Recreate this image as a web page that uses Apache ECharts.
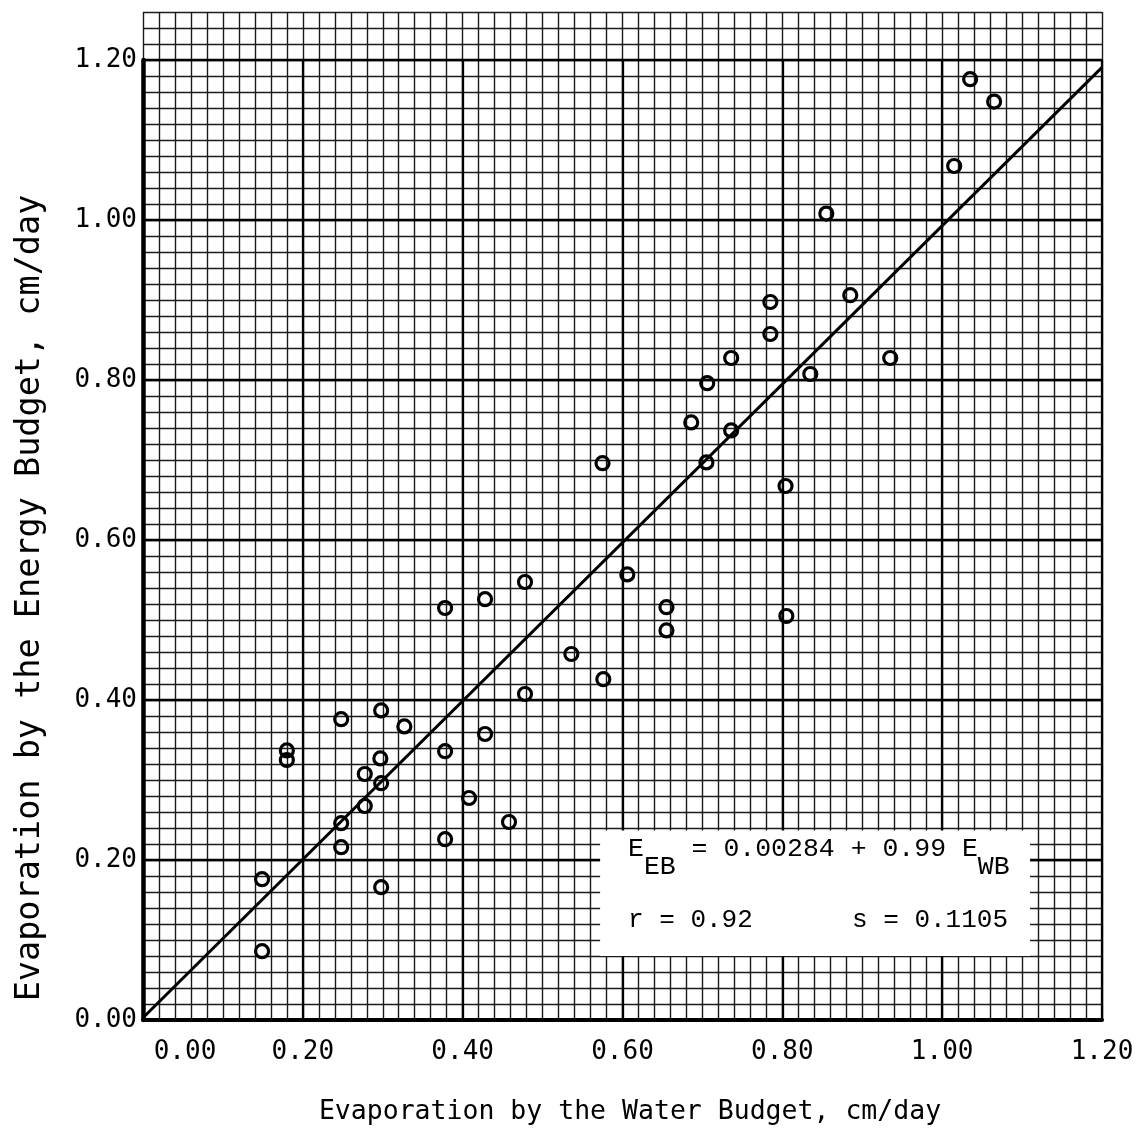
<!DOCTYPE html>
<html>
<head>
<meta charset="utf-8">
<script src="https://cdn.jsdelivr.net/npm/echarts@6/dist/echarts.min.js"></script>
<style>
html,body{margin:0;padding:0;background:#fff;}
#chart{width:1144px;height:1144px;}
</style>
</head>
<body>
<div id="chart"></div>
<script>
// ---- data ----
const waterBudget = [0.149,0.149,0.180,0.180,0.248,0.248,0.248,0.2775,0.2775,0.298,0.297,0.298,0.298,0.327,0.378,0.378,0.378,0.408,0.428,0.428,0.458,0.478,0.478,0.536,0.575,0.576,0.606,0.655,0.655,0.686,0.706,0.705,0.736,0.736,0.785,0.785,0.804,0.805,0.835,0.855,0.885,0.935,1.015,1.035,1.065];
const energyBudget = [0.086,0.176,0.337,0.325,0.376,0.246,0.216,0.3075,0.2675,0.387,0.327,0.296,0.166,0.367,0.515,0.336,0.226,0.2775,0.526,0.3575,0.2475,0.5475,0.4075,0.4575,0.696,0.426,0.557,0.516,0.487,0.747,0.796,0.697,0.8275,0.737,0.8975,0.8575,0.6675,0.505,0.8075,1.008,0.906,0.8275,1.0675,1.176,1.148];
const regressionIntercept = 0.00284;
const regressionSlope = 0.99;
const regressionRange = [0, 1.2];
const xTickLabels = ['0.00','0.20','0.40','0.60','0.80','1.00','1.20'];
const yTickLabels = ['0.00','0.20','0.40','0.60','0.80','1.00','1.20'];
const boxCorners = [[0.572, 0.080], [1.11, 0.237]];

const points = waterBudget.map((x, i) => [x, energyBudget[i]]);
const fitLine = regressionRange.map(x => [x, regressionIntercept + regressionSlope * x]);

const mono = 'DejaVu Sans Mono';
const tw = 'Liberation Mono';

function lab(list, v) {
  const idx = Math.round(v / 0.2);
  if (Math.abs(v - idx * 0.2) > 1e-6) return '';
  return list[idx] || '';
}

const chart = echarts.init(document.getElementById('chart'));
chart.setOption({
  backgroundColor: '#fff',
  animation: false,
  grid: [
    {left: 143, right: 42, top: 12, bottom: 124, containLabel: false, outerBoundsMode: 'none'},
    {left: 143, right: 42, top: 60, bottom: 124, containLabel: false, outerBoundsMode: 'none'}
  ],
  xAxis: [
    {type: 'value', gridIndex: 0, min: 0, max: 1.2, interval: 0.02, z: 0,
     axisLine: {show: false}, axisTick: {show: false}, axisLabel: {show: false},
     splitLine: {show: true, lineStyle: {color: '#1a1a1a', width: 1.4}}},
    {type: 'value', gridIndex: 1, min: 0, max: 1.2, interval: 0.2, z: 1,
     axisLine: {show: true, onZero: false, lineStyle: {color: '#000', width: 4}},
     axisTick: {show: false},
     axisLabel: {show: true, margin: 19, color: '#000', fontFamily: mono, fontSize: 26,
       formatter: v => (Math.abs(v) < 1e-9 ? '{first|' + lab(xTickLabels, v) + '}' : lab(xTickLabels, v)),
       rich: {first: {fontFamily: mono, fontSize: 26, color: '#000', padding: [0, 0, 0, 84]}}},
     splitLine: {show: true, lineStyle: {color: '#000', width: 2.3}}}
  ],
  yAxis: [
    {type: 'value', gridIndex: 0, min: 0, max: 1.26, interval: 0.02, z: 0,
     axisLine: {show: false}, axisTick: {show: false}, axisLabel: {show: false},
     splitLine: {show: true, lineStyle: {color: '#1a1a1a', width: 1.4}}},
    {type: 'value', gridIndex: 1, min: 0, max: 1.2, interval: 0.2, z: 1,
     axisLine: {show: true, onZero: false, lineStyle: {color: '#000', width: 4.5}},
     axisTick: {show: false},
     axisLabel: {show: true, margin: 6, color: '#000', fontFamily: mono, fontSize: 26,
       formatter: v => lab(yTickLabels, v)},
     splitLine: {show: true, lineStyle: {color: '#000', width: 2.3}}}
  ],
  series: [
    {type: 'line', xAxisIndex: 0, yAxisIndex: 0, data: fitLine, showSymbol: false, symbol: 'none',
     lineStyle: {color: '#000', width: 3}, z: 3,
     markArea: {silent: true, itemStyle: {color: '#fff', opacity: 1},
       data: [[{coord: boxCorners[0]}, {coord: boxCorners[1]}]]}},
    {type: 'scatter', xAxisIndex: 0, yAxisIndex: 0, data: points, symbol: 'circle', symbolSize: 13, z: 4,
     itemStyle: {color: 'rgba(0,0,0,0)', borderColor: '#000', borderWidth: 3.2, opacity: 1}}
  ],
  graphic: [
    {type: 'text', left: 628, top: 835, z: 100,
     style: {text: '{n|E}{s|EB}{n| = 0.00284 + 0.99 E}{s|WB}', fill: '#000',
       rich: {
         n: {fontFamily: tw, fontSize: 26.5, lineHeight: 28, verticalAlign: 'top', fill: '#000'},
         s: {fontFamily: tw, fontSize: 26.5, lineHeight: 28, padding: [18, 0, 0, 0], verticalAlign: 'top', fill: '#000'}
       }}},
    {type: 'text', left: 628, top: 907, z: 100,
     style: {text: 'r = 0.92', fontFamily: tw, fontSize: 26, fill: '#000'}},
    {type: 'text', left: 852, top: 907, z: 100,
     style: {text: 's = 0.1105', fontFamily: tw, fontSize: 26, fill: '#000'}},
    {type: 'text', x: 630, y: 1112, z: 100,
     style: {text: 'Evaporation by the Water Budget, cm/day', fontFamily: mono, fontSize: 26.5,
       fill: '#000', align: 'center', verticalAlign: 'middle'}},
    {type: 'text', x: 30, y: 598, rotation: Math.PI / 2, z: 100,
     style: {text: 'Evaporation by the Energy Budget, cm/day', fontFamily: mono, fontSize: 33.5,
       fill: '#000', align: 'center', verticalAlign: 'middle'}}
  ]
});
</script>
</body>
</html>
